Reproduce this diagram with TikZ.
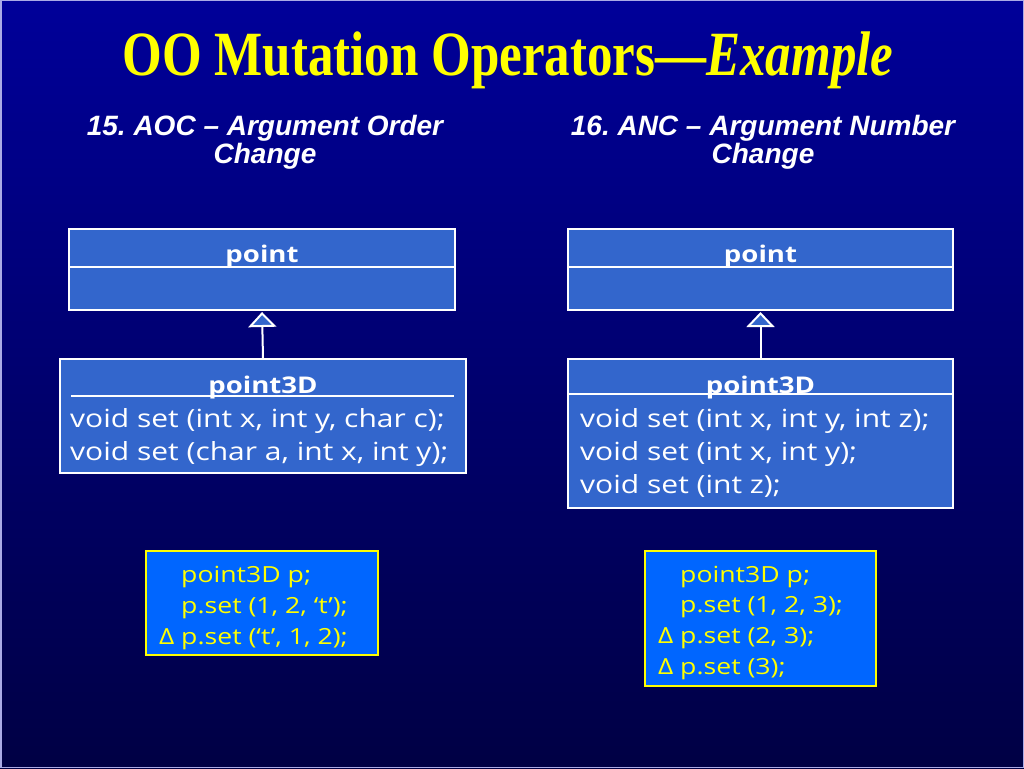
\documentclass[tikz,border=0pt]{standalone}
\usepackage{fontspec}
\setmainfont{Liberation Serif}
\newfontfamily\headfont{Liberation Sans}
\newfontfamily\umlfont[FakeStretch=1.2]{Open Sans}
\usetikzlibrary{arrows.meta,positioning}

\definecolor{slidetop}{RGB}{0,0,153}
\definecolor{slidebot}{RGB}{0,0,68}
\definecolor{slideedge}{RGB}{170,170,230}
\definecolor{classfill}{RGB}{51,102,204}
\definecolor{codefill}{RGB}{0,102,255}
\definecolor{slideyellow}{RGB}{255,255,0}

\tikzset{
	classbox/.style={draw=white, line width=2pt, fill=classfill, inner sep=0pt},
	codebox/.style={draw=slideyellow, line width=2pt, fill=codefill, inner sep=0pt},
	divider/.style={draw=white, line width=2pt},
	classname/.style={text=white, font=\umlfont\bfseries\fontsize{23}{28}\selectfont, anchor=base, inner sep=0pt},
	method/.style={text=white, font=\umlfont\fontsize{25}{28}\selectfont, anchor=base west, inner sep=0pt},
	codeline/.style={text=slideyellow, font=\umlfont\fontsize{22.2}{25}\selectfont, anchor=base west, inner sep=0pt},
	subtitle/.style={text=white, font=\headfont\bfseries\itshape\fontsize{28}{28}\selectfont, anchor=base, inner sep=0pt},
	inherit/.style={draw=white, line width=2pt, -{Triangle[open, width=28pt, length=15pt, fill=classfill]}, shorten >=1pt},
}
\newcommand{\mutd}{\llap{Δ\ }}
\frenchspacing

\begin{document}
\begin{tikzpicture}[x=1pt, y=-1pt]
		\useasboundingbox (0,0) rectangle (1024,768);
		\shade [top color=slidetop, bottom color=slidebot] (0,0) rectangle (1024,768);
		\draw [slideedge, line width=1.5pt] (0.75,0.75) rectangle (1023.25,767.25);

		% headings
		\draw (508,75) node [anchor=base, inner sep=0pt, text=slideyellow, font=\bfseries\fontsize{63}{63}\selectfont] (title) {\scalebox{0.81}[1]{OO Mutation Operators---\textit{Example}}};
		\draw (265,135) node [subtitle] (aocA) {15. AOC – Argument Order};
		\draw (265,163) node [subtitle] (aocB) {Change};
		\draw (763,135) node [subtitle] (ancA) {16. ANC – Argument Number};
		\draw (763,163) node [subtitle] (ancB) {Change};

		% AOC classes
		\draw (262,269.5) node [classbox, minimum width=386pt, minimum height=81pt] (aocsuper) {};
		\draw (262,262) node [classname] (aocsupername) {point};
		\draw [divider] ([yshift=-39pt]aocsuper.north west) -- ([yshift=-39pt]aocsuper.north east);
		\draw (263,416) node [classbox, minimum width=406pt, minimum height=114pt] (aocsub) {};
		\draw (263,393) node [classname] (aocsubname) {point3D};
		\draw [divider] ([xshift=12pt, yshift=-38pt]aocsub.north west) -- ([xshift=-13pt, yshift=-38pt]aocsub.north east);
		\draw (70,427) node [method] (aocm1) {void set (int x, int y, char c);};
		\draw (70,460) node [method] (aocm2) {void set (char a, int x, int y);};
		\draw [inherit] (aocsub.north) -- (aocsuper.south);

		% ANC classes
		\draw (760.5,269.5) node [classbox, minimum width=385pt, minimum height=81pt] (ancsuper) {};
		\draw (760.5,262) node [classname] (ancsupername) {point};
		\draw [divider] ([yshift=-39pt]ancsuper.north west) -- ([yshift=-39pt]ancsuper.north east);
		\draw (760.5,433.5) node [classbox, minimum width=385pt, minimum height=149pt] (ancsub) {};
		\draw (760.5,393) node [classname] (ancsubname) {point3D};
		\draw [divider] ([yshift=-36pt]ancsub.north west) -- ([yshift=-36pt]ancsub.north east);
		\draw (580,427) node [method] (ancm1) {void set (int x, int y, int z);};
		\draw (580,460) node [method] (ancm2) {void set (int x, int y);};
		\draw (580,493) node [method] (ancm3) {void set (int z);};
		\draw [inherit] (ancsub.north) -- (ancsuper.south);

		% mutants
		\draw (262,603) node [codebox, minimum width=232pt, minimum height=104pt] (aoccode) {};
		\draw (181,582) node [codeline] (aocc1) {point3D p;};
		\draw (181,613) node [codeline] (aocc2) {p.set (1, 2, ‘t’);};
		\draw (181,644) node [codeline] (aocc3) {\mutd p.set (‘t’, 1, 2);};
		\draw (760.5,618.5) node [codebox, minimum width=231pt, minimum height=135pt] (anccode) {};
		\draw (680,582) node [codeline] (ancc1) {point3D p;};
		\draw (680,612) node [codeline] (ancc2) {p.set (1, 2, 3);};
		\draw (680,643) node [codeline] (ancc3) {\mutd p.set (2, 3);};
		\draw (680,674) node [codeline] (ancc4) {\mutd p.set (3);};
	\end{tikzpicture}
\end{document}
